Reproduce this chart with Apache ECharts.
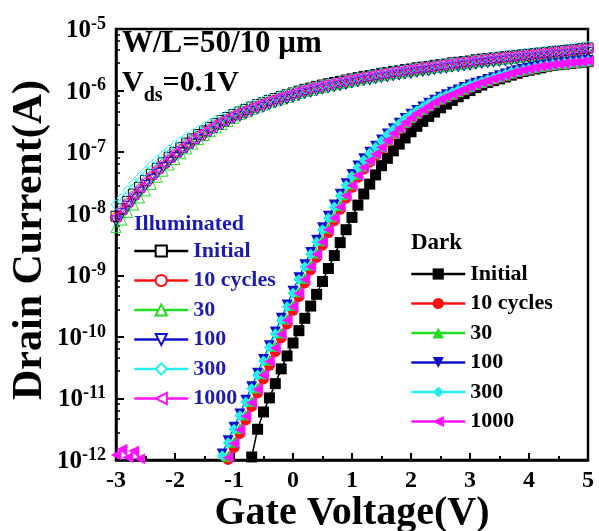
<!DOCTYPE html>
<html>
<head>
<meta charset="utf-8">
<script src="https://cdn.jsdelivr.net/npm/echarts@6/dist/echarts.min.js"></script>
<style>
  html, body { margin: 0; padding: 0; background: #fff; }
  #chart { width: 599px; height: 531px; }
</style>
</head>
<body>
<div id="chart"></div>
<script>
// gate voltage sweep (V)
const vg = [-3.0,-2.9,-2.8,-2.7,-2.6,-2.5,-2.4,-2.3,-2.2,-2.1,
  -2.0,-1.9,-1.8,-1.7,-1.6,-1.5,-1.4,-1.3,-1.2,-1.1,
  -1.0,-0.9,-0.8,-0.7,-0.6,-0.5,-0.4,-0.3,-0.2,-0.1,
  0.0,0.1,0.2,0.3,0.4,0.5,0.6,0.7,0.8,0.9,
  1.0,1.1,1.2,1.3,1.4,1.5,1.6,1.7,1.8,1.9,
  2.0,2.1,2.2,2.3,2.4,2.5,2.6,2.7,2.8,2.9,
  3.0,3.1,3.2,3.3,3.4,3.5,3.6,3.7,3.8,3.9,
  4.0,4.1,4.2,4.3,4.4,4.5,4.6,4.7,4.8,4.9,5.0];

// illuminated curves, -3 V .. 5 V
const illumInitial = [9.1e-9,1.2e-8,1.58e-8,2.08e-8,2.68e-8,3.45e-8,4.35e-8,5.45e-8,6.7e-8,8.25e-8,
  9.9e-8,1.18e-7,1.4e-7,1.64e-7,1.93e-7,2.21e-7,2.53e-7,2.9e-7,3.26e-7,3.65e-7,
  4.09e-7,4.49e-7,4.92e-7,5.39e-7,5.9e-7,6.33e-7,6.94e-7,7.43e-7,7.96e-7,8.53e-7,
  9.14e-7,9.8e-7,1.05e-6,1.1e-6,1.17e-6,1.23e-6,1.29e-6,1.35e-6,1.41e-6,1.48e-6,
  1.55e-6,1.62e-6,1.7e-6,1.74e-6,1.82e-6,1.91e-6,1.95e-6,2.04e-6,2.09e-6,2.19e-6,
  2.24e-6,2.34e-6,2.4e-6,2.45e-6,2.57e-6,2.63e-6,2.69e-6,2.82e-6,2.88e-6,2.95e-6,
  3.02e-6,3.16e-6,3.24e-6,3.31e-6,3.39e-6,3.47e-6,3.55e-6,3.63e-6,3.72e-6,3.8e-6,
  3.89e-6,3.98e-6,4.07e-6,4.17e-6,4.27e-6,4.37e-6,4.47e-6,4.57e-6,4.68e-6,4.79e-6,4.9e-6];
const illum10 = [8.5e-9,1.12e-8,1.48e-8,1.95e-8,2.5e-8,3.2e-8,4.05e-8,5.1e-8,6.3e-8,7.7e-8,
  9.3e-8,1.11e-7,1.31e-7,1.54e-7,1.81e-7,2.08e-7,2.38e-7,2.74e-7,3.08e-7,3.45e-7,
  3.87e-7,4.25e-7,4.65e-7,5.1e-7,5.6e-7,6.0e-7,6.6e-7,7.05e-7,7.55e-7,8.1e-7,
  8.7e-7,9.3e-7,1.0e-6,1.05e-6,1.11e-6,1.17e-6,1.23e-6,1.28e-6,1.34e-6,1.41e-6,
  1.47e-6,1.54e-6,1.62e-6,1.65e-6,1.73e-6,1.81e-6,1.85e-6,1.94e-6,1.99e-6,2.08e-6,
  2.13e-6,2.22e-6,2.28e-6,2.33e-6,2.44e-6,2.5e-6,2.56e-6,2.68e-6,2.74e-6,2.8e-6,
  2.87e-6,3.0e-6,3.08e-6,3.14e-6,3.22e-6,3.3e-6,3.37e-6,3.45e-6,3.53e-6,3.61e-6,
  3.7e-6,3.78e-6,3.87e-6,3.96e-6,4.06e-6,4.15e-6,4.25e-6,4.34e-6,4.45e-6,4.55e-6,4.66e-6];
const illum30 = [6.0e-9,7.9e-9,1.05e-8,1.38e-8,1.8e-8,2.35e-8,3.0e-8,3.9e-8,4.9e-8,6.2e-8,
  7.6e-8,9.4e-8,1.13e-7,1.35e-7,1.6e-7,1.86e-7,2.14e-7,2.48e-7,2.8e-7,3.16e-7,
  3.55e-7,4.1e-7,4.5e-7,4.95e-7,5.4e-7,5.8e-7,6.35e-7,6.8e-7,7.3e-7,7.8e-7,
  8.4e-7,9.0e-7,9.6e-7,1.01e-6,1.08e-6,1.13e-6,1.19e-6,1.24e-6,1.3e-6,1.36e-6,
  1.43e-6,1.49e-6,1.56e-6,1.6e-6,1.67e-6,1.76e-6,1.8e-6,1.88e-6,1.92e-6,2.01e-6,
  2.06e-6,2.15e-6,2.2e-6,2.25e-6,2.36e-6,2.42e-6,2.47e-6,2.59e-6,2.65e-6,2.71e-6,
  2.78e-6,2.9e-6,2.98e-6,3.05e-6,3.12e-6,3.19e-6,3.27e-6,3.34e-6,3.42e-6,3.5e-6,
  3.58e-6,3.66e-6,3.74e-6,3.84e-6,3.93e-6,4.02e-6,4.11e-6,4.2e-6,4.3e-6,4.4e-6,4.5e-6];
const illum100 = [7.6e-9,1.0e-8,1.32e-8,1.73e-8,2.24e-8,2.88e-8,3.63e-8,4.57e-8,5.62e-8,6.9e-8,
  8.3e-8,9.9e-8,1.17e-7,1.38e-7,1.62e-7,1.86e-7,2.13e-7,2.45e-7,2.75e-7,3.09e-7,
  3.46e-7,3.8e-7,4.17e-7,4.57e-7,5.0e-7,5.37e-7,5.88e-7,6.3e-7,6.75e-7,7.23e-7,
  7.75e-7,8.3e-7,8.9e-7,9.35e-7,9.95e-7,1.05e-6,1.1e-6,1.15e-6,1.2e-6,1.26e-6,
  1.32e-6,1.38e-6,1.45e-6,1.48e-6,1.55e-6,1.62e-6,1.66e-6,1.73e-6,1.78e-6,1.86e-6,
  1.9e-6,1.99e-6,2.04e-6,2.08e-6,2.18e-6,2.24e-6,2.29e-6,2.4e-6,2.45e-6,2.51e-6,
  2.57e-6,2.69e-6,2.75e-6,2.81e-6,2.88e-6,2.95e-6,3.02e-6,3.09e-6,3.16e-6,3.23e-6,
  3.31e-6,3.38e-6,3.46e-6,3.54e-6,3.63e-6,3.71e-6,3.8e-6,3.88e-6,3.98e-6,4.07e-6,4.17e-6];
const illum300 = [1.4e-8,1.8e-8,2.4e-8,3.1e-8,3.9e-8,4.9e-8,6.0e-8,7.4e-8,9.0e-8,1.08e-7,
  1.29e-7,1.5e-7,1.75e-7,2.0e-7,2.3e-7,2.6e-7,2.95e-7,3.3e-7,3.7e-7,4.1e-7,
  4.55e-7,5.0e-7,5.45e-7,5.9e-7,6.4e-7,6.9e-7,7.4e-7,7.9e-7,8.4e-7,8.9e-7,
  9.5e-7,1.0e-6,1.06e-6,1.12e-6,1.18e-6,1.24e-6,1.3e-6,1.36e-6,1.42e-6,1.48e-6,
  1.58e-6,1.65e-6,1.72e-6,1.79e-6,1.86e-6,1.93e-6,2.0e-6,2.08e-6,2.15e-6,2.23e-6,
  2.3e-6,2.38e-6,2.46e-6,2.54e-6,2.62e-6,2.7e-6,2.78e-6,2.87e-6,2.96e-6,3.05e-6,
  3.14e-6,3.23e-6,3.32e-6,3.42e-6,3.52e-6,3.62e-6,3.72e-6,3.82e-6,3.92e-6,4.02e-6,
  4.12e-6,4.22e-6,4.32e-6,4.42e-6,4.53e-6,4.64e-6,4.75e-6,4.86e-6,4.97e-6,5.08e-6,5.2e-6];
const illum1000 = [8.91e-9,1.17e-8,1.55e-8,2.04e-8,2.63e-8,3.39e-8,4.27e-8,5.37e-8,6.61e-8,8.13e-8,
  9.77e-8,1.17e-7,1.38e-7,1.62e-7,1.91e-7,2.19e-7,2.51e-7,2.88e-7,3.24e-7,3.63e-7,
  4.07e-7,4.47e-7,4.9e-7,5.37e-7,5.89e-7,6.31e-7,6.92e-7,7.41e-7,7.94e-7,8.51e-7,
  9.12e-7,9.77e-7,1.05e-6,1.1e-6,1.17e-6,1.23e-6,1.29e-6,1.35e-6,1.41e-6,1.48e-6,
  1.55e-6,1.62e-6,1.7e-6,1.74e-6,1.82e-6,1.91e-6,1.95e-6,2.04e-6,2.09e-6,2.19e-6,
  2.24e-6,2.34e-6,2.4e-6,2.45e-6,2.57e-6,2.63e-6,2.69e-6,2.82e-6,2.88e-6,2.95e-6,
  3.02e-6,3.16e-6,3.24e-6,3.31e-6,3.39e-6,3.47e-6,3.55e-6,3.63e-6,3.72e-6,3.8e-6,
  3.89e-6,3.98e-6,4.07e-6,4.17e-6,4.27e-6,4.37e-6,4.47e-6,4.57e-6,4.68e-6,4.79e-6,4.9e-6];

// dark curves, each runs from its first visible point up to 5 V
const darkInitial = [1.12e-12,3.16e-12,6.03e-12,1.02e-11,1.74e-11,3.02e-11,4.9e-11,7.94e-11,
  1.26e-10,2.0e-10,3.16e-10,4.9e-10,7.94e-10,1.29e-9,2.09e-9,3.39e-9,5.5e-9,8.71e-9,
  1.38e-8,2.09e-8,3.02e-8,4.27e-8,6.03e-8,7.94e-8,1.05e-7,1.35e-7,1.7e-7,2.14e-7,
  2.63e-7,3.16e-7,3.8e-7,4.47e-7,5.25e-7,6.03e-7,6.92e-7,7.94e-7,8.91e-7,1.0e-6,
  1.12e-6,1.23e-6,1.35e-6,1.45e-6,1.55e-6,1.66e-6,1.78e-6,1.91e-6,2.04e-6,2.14e-6,
  2.24e-6,2.34e-6,2.45e-6,2.57e-6,2.63e-6,2.69e-6,2.75e-6,2.82e-6,2.88e-6,2.95e-6];
const dark10 = [1.02e-12,1.6e-12,2.7e-12,4.5e-12,7.4e-12,1.23e-11,2.07e-11,3.45e-11,5.75e-11,9.6e-11,
  1.62e-10,2.7e-10,4.5e-10,7.5e-10,1.22e-9,1.95e-9,3.1e-9,4.95e-9,7.7e-9,1.18e-8,
  1.8e-8,2.68e-8,3.9e-8,5.3e-8,6.9e-8,8.9e-8,1.15e-7,1.49e-7,1.93e-7,2.37e-7,
  2.93e-7,3.54e-7,4.17e-7,4.8e-7,5.52e-7,6.35e-7,7.13e-7,7.83e-7,8.6e-7,9.44e-7,
  1.04e-6,1.14e-6,1.25e-6,1.34e-6,1.44e-6,1.54e-6,1.65e-6,1.77e-6,1.9e-6,2.03e-6,
  2.13e-6,2.23e-6,2.33e-6,2.44e-6,2.5e-6,2.62e-6,2.68e-6,2.74e-6,2.81e-6,2.87e-6,2.94e-6,3.01e-6];
const dark30 = [1.15e-12,1.95e-12,3.25e-12,5.4e-12,8.9e-12,1.48e-11,2.52e-11,4.18e-11,6.95e-11,1.16e-10,
  1.95e-10,3.24e-10,5.4e-10,8.9e-10,1.45e-9,2.3e-9,3.64e-9,5.78e-9,8.9e-9,1.35e-8,
  2.04e-8,3.0e-8,4.35e-8,5.85e-8,7.5e-8,9.6e-8,1.23e-7,1.58e-7,2.03e-7,2.48e-7,
  3.05e-7,3.66e-7,4.3e-7,4.93e-7,5.65e-7,6.49e-7,7.27e-7,7.97e-7,8.74e-7,9.58e-7,
  1.05e-6,1.15e-6,1.26e-6,1.35e-6,1.45e-6,1.55e-6,1.66e-6,1.78e-6,1.91e-6,2.04e-6,
  2.14e-6,2.24e-6,2.34e-6,2.45e-6,2.51e-6,2.63e-6,2.69e-6,2.75e-6,2.82e-6,2.88e-6,2.95e-6,3.02e-6];
const dark100 = [1.25e-12,2.05e-12,3.4e-12,5.6e-12,9.3e-12,1.55e-11,2.57e-11,4.3e-11,7.2e-11,1.2e-10,
  2.0e-10,3.3e-10,5.5e-10,9.1e-10,1.48e-9,2.35e-9,3.7e-9,5.9e-9,9.1e-9,1.38e-8,
  2.08e-8,3.07e-8,4.35e-8,5.95e-8,7.8e-8,1.0e-7,1.25e-7,1.57e-7,1.97e-7,2.4e-7,
  2.94e-7,3.53e-7,4.13e-7,4.74e-7,5.43e-7,6.22e-7,6.97e-7,7.8e-7,8.55e-7,9.36e-7,
  1.02e-6,1.12e-6,1.23e-6,1.32e-6,1.41e-6,1.51e-6,1.62e-6,1.74e-6,1.86e-6,2.0e-6,
  2.09e-6,2.19e-6,2.29e-6,2.4e-6,2.51e-6,2.57e-6,2.69e-6,2.75e-6,2.82e-6,2.88e-6,2.95e-6,3.02e-6,3.09e-6];
const dark300 = [1.17e-12,1.91e-12,3.16e-12,5.25e-12,8.71e-12,1.45e-11,2.4e-11,4.07e-11,6.76e-11,1.12e-10,
  1.86e-10,3.09e-10,5.13e-10,8.51e-10,1.38e-9,2.19e-9,3.47e-9,5.5e-9,8.51e-9,1.29e-8,
  1.95e-8,2.88e-8,4.07e-8,5.62e-8,7.41e-8,9.55e-8,1.2e-7,1.51e-7,1.91e-7,2.34e-7,
  2.88e-7,3.47e-7,4.07e-7,4.68e-7,5.37e-7,6.17e-7,6.92e-7,7.76e-7,8.51e-7,9.33e-7,
  1.02e-6,1.12e-6,1.23e-6,1.32e-6,1.41e-6,1.51e-6,1.62e-6,1.74e-6,1.86e-6,2.0e-6,
  2.09e-6,2.19e-6,2.29e-6,2.4e-6,2.51e-6,2.57e-6,2.69e-6,2.75e-6,2.82e-6,2.88e-6,2.95e-6,3.02e-6,3.09e-6];
const dark1000 = [1.1e-12,1.86e-12,3.09e-12,5.13e-12,8.51e-12,1.41e-11,2.4e-11,3.98e-11,6.61e-11,1.1e-10,
  1.86e-10,3.09e-10,5.13e-10,8.51e-10,1.38e-9,2.19e-9,3.47e-9,5.5e-9,8.51e-9,1.29e-8,
  1.95e-8,2.88e-8,4.17e-8,5.62e-8,7.24e-8,9.33e-8,1.2e-7,1.55e-7,2.0e-7,2.45e-7,
  3.02e-7,3.63e-7,4.27e-7,4.9e-7,5.62e-7,6.46e-7,7.24e-7,7.94e-7,8.71e-7,9.55e-7,
  1.05e-6,1.15e-6,1.26e-6,1.35e-6,1.45e-6,1.55e-6,1.66e-6,1.78e-6,1.91e-6,2.04e-6,
  2.14e-6,2.24e-6,2.34e-6,2.45e-6,2.51e-6,2.63e-6,2.69e-6,2.75e-6,2.82e-6,2.88e-6,2.95e-6,3.02e-6];
// noise floor points of the dark 1000 curve at the far left
const noiseV = [-3.0,-2.9,-2.8,-2.7,-2.6];
const noise1000 = [1.2e-12,1.5e-12,1.1e-12,1.4e-12,1.05e-12];

const cycles = ['Initial', '10 cycles', '30', '100', '300', '1000'];
const colors = ['#000000', '#ff1010', '#22dd22', '#1010cc', '#22eeee', '#ff10ff'];
const shapes = ['rect', 'circle', 'triangle', 'triangle', 'diamond', 'triangle'];
const rotates = [0, 0, 0, 180, 0, 90];

// pair each curve with the tail of the voltage sweep
const toPairs = (vals, volts) => {
  const off = volts.length - vals.length;
  return vals.map((v, i) => [volts[off + i], v]);
};

const illum = [illumInitial, illum10, illum30, illum100, illum300, illum1000];
const dark = [darkInitial, dark10, dark30, dark100, dark300, dark1000];
const FONT = '"Liberation Serif", "Times New Roman", serif';

let series = [];
illum.forEach((arr, i) => {
  series.push({
    name: 'L-' + cycles[i],
    type: 'line',
    data: toPairs(arr, vg),
    symbol: shapes[i],
    symbolRotate: rotates[i],
    symbolSize: 10,
    lineStyle: { color: colors[i], width: 1 },
    itemStyle: { color: 'rgba(255,255,255,0)', borderColor: colors[i], borderWidth: 1 },
    emphasis: { disabled: true },
    z: 2
  });
});
dark.forEach((arr, i) => {
  series.push({
    name: 'D-' + cycles[i],
    type: 'line',
    data: toPairs(arr, vg),
    symbol: shapes[i],
    symbolRotate: rotates[i],
    symbolSize: 11,
    lineStyle: { color: colors[i], width: 1.5 },
    itemStyle: { color: colors[i] },
    emphasis: { disabled: true },
    z: 3
  });
});
series.push({
  name: 'D-1000-noise',
  type: 'line',
  data: noiseV.map((v, i) => [v, noise1000[i]]),
  symbol: 'triangle',
  symbolRotate: 90,
  symbolSize: 11,
  lineStyle: { color: colors[5], width: 1.5 },
  itemStyle: { color: colors[5] },
  emphasis: { disabled: true },
  z: 3
});

const legendBase = {
  orient: 'vertical',
  selectedMode: false,
  padding: 0,
  itemWidth: 54,
  itemHeight: 14,
  itemGap: 7.5,
  lineStyle: { width: 2.5 },
  formatter: n => n.slice(2),
};

const myChart = echarts.init(document.getElementById('chart'));
myChart.setOption({
  animation: false,
  grid: {
    left: 116, top: 29, right: 11, bottom: 71,
    outerBoundsMode: 'none', containLabel: false,
    show: true, borderColor: '#000', borderWidth: 2.5
  },
  xAxis: {
    type: 'value',
    min: -3, max: 5, interval: 1,
    name: 'Gate Voltage(V)',
    nameLocation: 'middle',
    nameGap: 34,
    nameMoveOverlap: false,
    nameTextStyle: { fontFamily: FONT, fontWeight: 'bold', fontSize: 40, color: '#000' },
    axisLine: { lineStyle: { color: '#000', width: 2.5 } },
    axisTick: { inside: true, length: 7, lineStyle: { color: '#000', width: 2 } },
    minorTick: { show: true, splitNumber: 2, length: 4, lineStyle: { color: '#000', width: 2 } },
    splitLine: { show: false },
    axisLabel: { fontFamily: FONT, fontWeight: 'bold', fontSize: 24, color: '#000', margin: 9 }
  },
  yAxis: {
    type: 'log',
    min: 1e-12, max: 1e-5,
    logBase: 10,
    axisLine: { onZero: false, lineStyle: { color: '#000', width: 2.5 } },
    axisTick: { inside: true, length: 8, lineStyle: { color: '#000', width: 2 } },
    minorTick: { show: true, splitNumber: 5, length: 4, lineStyle: { color: '#000', width: 1.5 } },
    splitLine: { show: false },
    axisLabel: {
      margin: 10,
      formatter: v => '{b|10}{s|' + Math.round(Math.log10(v)) + '}',
      rich: {
        b: { fontFamily: FONT, fontWeight: 'bold', fontSize: 25, color: '#000', lineHeight: 28, verticalAlign: 'bottom' },
        s: { fontFamily: FONT, fontWeight: 'bold', fontSize: 18, color: '#000', lineHeight: 28, verticalAlign: 'top', padding: [0, 0, 10, 0] }
      }
    }
  },
  legend: [
    Object.assign({}, legendBase, {
      left: 133, top: 240,
      data: cycles.map(c => ({ name: 'L-' + c, itemStyle: { color: '#fff' } })),
      textStyle: { fontFamily: FONT, fontWeight: 'bold', fontSize: 22, color: '#1c1cb4', lineHeight: 20 }
    }),
    Object.assign({}, legendBase, {
      left: 410, top: 263,
      data: cycles.map(c => 'D-' + c),
      textStyle: { fontFamily: FONT, fontWeight: 'bold', fontSize: 22, color: '#000', lineHeight: 20 }
    })
  ],
  graphic: [
    { type: 'text', left: 122, top: 28, style: { text: 'W/L=50/10 μm', font: 'bold 31px ' + FONT, fill: '#000' } },
    { type: 'text', left: 122, top: 68, style: {
        text: '{a|V}{d|ds}{a|=0.1V}',
        rich: {
          a: { font: 'bold 30px ' + FONT, fill: '#000', lineHeight: 38, verticalAlign: 'top' },
          d: { font: 'bold 20px ' + FONT, fill: '#000', lineHeight: 38, verticalAlign: 'bottom', padding: [12, 0, 0, 0] }
        } } },
    { type: 'text', left: 134, top: 213, style: { text: 'Illuminated', font: 'bold 22px ' + FONT, fill: '#1c1cb4' } },
    { type: 'text', left: 411, top: 232, style: { text: 'Dark', font: 'bold 23px ' + FONT, fill: '#000' } },
    { type: 'text', x: 30, y: 240, rotation: Math.PI / 2, style: {
        text: 'Drain Current(A)', font: 'bold 42px ' + FONT, fill: '#000', align: 'center', verticalAlign: 'middle' } }
  ],
  series: series
});
</script>
</body>
</html>
